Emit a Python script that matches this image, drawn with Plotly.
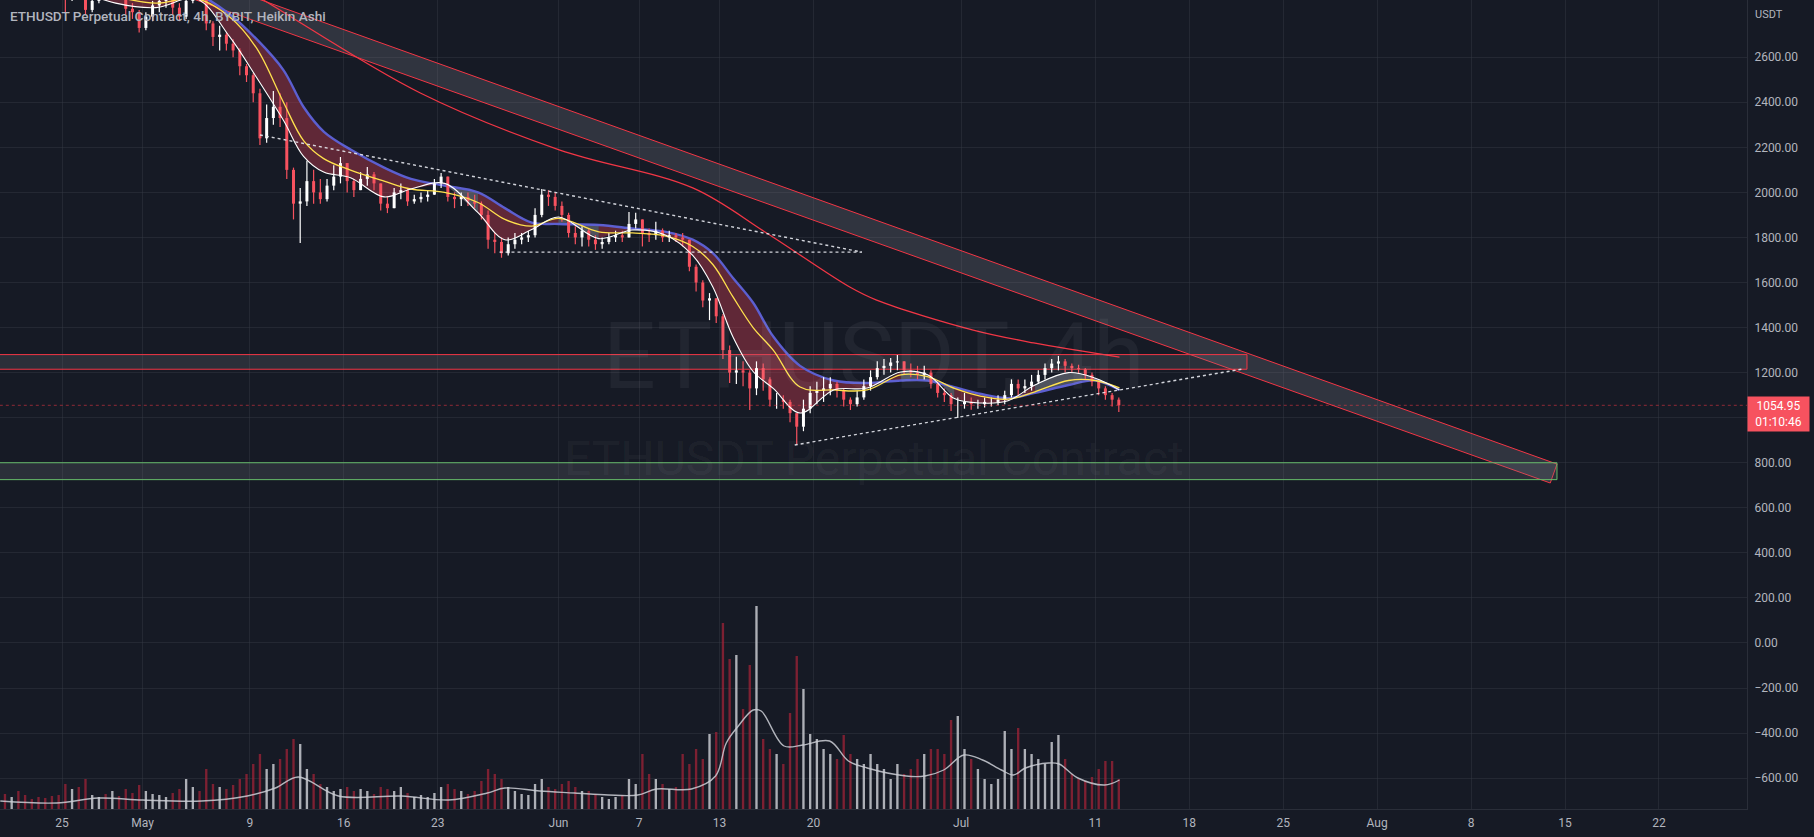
import numpy as np
import pandas as pd
import plotly.graph_objects as go

# ---------------- DATA ----------------
# 12h Heikin-Ashi-like candles, first candle opens 2022-04-20 12:00
candle_start = "2022-04-20 12:00"
first_open = 3040
close = [3020,
         3090, 2990, 2985, 2960, 2950, 2935, 2930, 2920, 2860, 3000,          # Apr21-25
         2960, 2810, 2850, 2890, 2880, 2935, 2900, 2815, 2800, 2730,          # Apr26-30
         2780, 2830, 2850, 2860, 2820, 2780, 2850, 2940, 2920, 2750,          # May1-5
         2690, 2700, 2660, 2630, 2560, 2520, 2440, 2240, 2330, 2380,          # May6-10
         2330, 2100, 1950, 1960, 2050, 2000, 1970, 2030, 2070, 2130,          # May11-15
         2050, 2010, 2060, 2080, 2040, 1950, 1930, 2000, 2010, 1960,          # May16-20
         1970, 1980, 1990, 2040, 2070, 1980, 1970, 1980, 1960, 1950,          # May21-25
         1900, 1790, 1780, 1730, 1770, 1790, 1800, 1810, 1900, 1990,          # May26-30
         1980, 1940,                                                          # May31
         1900, 1820, 1800, 1830, 1790, 1770, 1780, 1800, 1810, 1800,          # Jun1-5
         1860, 1880, 1820, 1810, 1830, 1800, 1810, 1800, 1790, 1670,          # Jun6-10
         1600, 1520, 1530, 1450, 1300, 1200, 1210, 1200, 1130, 1220,          # Jun11-15
         1170, 1080, 1080, 1070, 1020, 960, 1040, 1110, 1120, 1130,           # Jun16-20
         1150, 1120, 1080, 1060, 1090, 1140, 1180, 1220, 1230, 1245,          # Jun21-25
         1250, 1210, 1200, 1190, 1200, 1150, 1110, 1100, 1060, 1060,          # Jun26-30
         1070, 1060, 1060, 1070, 1070, 1080, 1100, 1150, 1130, 1140,          # Jul1-5
         1160, 1190, 1220, 1240, 1250, 1230, 1220, 1215, 1190, 1160,          # Jul6-10
         1130, 1100, 1080, 1054.95]                                           # Jul11-12
high = [3080,
        3170, 3100, 3020, 3000, 2980, 2960, 2950, 2950, 2930, 3030,
        3030, 2970, 2880, 2920, 2950, 2980, 2950, 2900, 2840, 2810,
        2800, 2850, 2880, 2880, 2870, 2840, 2880, 2960, 2960, 2930,
        2760, 2740, 2710, 2680, 2640, 2570, 2530, 2460, 2390, 2450,
        2440, 2400, 2110, 2020, 2140, 2100, 2060, 2060, 2120, 2157,
        2100, 2060, 2090, 2113, 2090, 2040, 1980, 2020, 2040, 2020,
        1990, 2000, 2010, 2060, 2086, 2060, 2000, 2000, 2000, 1990,
        1960, 1920, 1820, 1800, 1800, 1820, 1820, 1830, 1930, 2015,
        2010, 2000,
        1960, 1910, 1850, 1850, 1840, 1810, 1800, 1820, 1830, 1830,
        1913, 1910, 1880, 1840, 1870, 1840, 1830, 1820, 1820, 1790,
        1680, 1610, 1553, 1520, 1460, 1320, 1270, 1250, 1210, 1250,
        1240, 1180, 1110, 1100, 1080, 1020, 1080, 1140, 1160, 1180,
        1180, 1160, 1130, 1090, 1120, 1170, 1210, 1250, 1260, 1265,
        1278, 1250, 1240, 1230, 1230, 1210, 1160, 1130, 1110, 1090,
        1110, 1090, 1080, 1090, 1090, 1100, 1120, 1170, 1170, 1170,
        1190, 1210, 1240, 1260, 1274, 1260, 1240, 1235, 1220, 1200,
        1170, 1140, 1110, 1090]
low = [3000,
       3010, 2960, 2940, 2930, 2925, 2910, 2900, 2890, 2800, 2850,
       2930, 2790, 2800, 2840, 2860, 2880, 2860, 2790, 2770, 2710,
       2720, 2760, 2800, 2820, 2790, 2760, 2770, 2840, 2880, 2720,
       2650, 2630, 2630, 2600, 2520, 2490, 2400, 2210, 2220, 2300,
       2290, 2060, 1880, 1775, 1940, 1950, 1950, 1960, 2010, 2040,
       2000, 1980, 2010, 2030, 2010, 1920, 1908, 1930, 1970, 1940,
       1950, 1955, 1960, 1990, 2020, 1960, 1930, 1940, 1940, 1930,
       1880, 1750, 1730, 1710, 1720, 1750, 1770, 1780, 1800, 1890,
       1940, 1920,
       1870, 1800, 1770, 1760, 1760, 1745, 1750, 1770, 1780, 1780,
       1800, 1840, 1760, 1780, 1790, 1780, 1780, 1780, 1760, 1650,
       1560, 1490, 1433, 1420, 1260, 1154, 1150, 1140, 1034, 1100,
       1120, 1050, 1040, 1040, 980, 879, 940, 1020, 1060, 1070,
       1100, 1090, 1050, 1034, 1050, 1080, 1120, 1170, 1190, 1200,
       1210, 1190, 1180, 1170, 1170, 1130, 1090, 1070, 1030, 999,
       1040, 1035, 1040, 1045, 1050, 1055, 1060, 1090, 1100, 1110,
       1120, 1150, 1170, 1200, 1210, 1200, 1200, 1195, 1170, 1140,
       1100, 1080, 1050, 1025]
# volume per 12h candle (arbitrary units)
volume = [15,
          12, 18, 14, 10, 12, 11, 13, 14, 25, 20,
          22, 30, 14, 12, 15, 18, 13, 20, 16, 24,
          18, 15, 14, 12, 16, 20, 30, 22, 18, 40,
          25, 22, 20, 24, 30, 35, 45, 55, 40, 45,
          50, 60, 70, 65, 40, 35, 25, 22, 18, 20,
          22, 18, 20, 18, 15, 22, 20, 18, 22, 16,
          12, 14, 12, 16, 22, 25, 20, 18, 15, 18,
          28, 40, 35, 30, 22, 18, 15, 14, 25, 30,
          22, 20,
          25, 28, 22, 18, 18, 15, 12, 10, 12, 14,
          30, 25, 55, 35, 30, 25, 20, 22, 55, 45,
          60, 50, 75, 77, 186, 150, 154, 100, 144, 203,
          70, 60, 55, 45, 96, 153, 120, 75, 70, 60,
          55, 50, 74, 55, 50, 45, 55, 45, 40, 30,
          45, 35, 40, 50, 55, 60, 60, 55, 89, 93,
          60, 50, 40, 30, 25, 30, 78, 60, 81, 60,
          55, 50, 45, 67, 74, 50, 35, 30, 28, 32,
          40, 48, 48, 30]
# volume moving average (knots, days after 2022-04-25)
vol_ma_day = [-4.6, -0.4, 2.7, 6, 10.4, 13.8, 15.9, 17.6, 20.6, 25.3, 28.8, 31.7, 33, 35.6,
              38.2, 40.7, 42.9, 44.3, 46.9, 48.7, 49.5, 50.4, 51.5, 52.1, 53.8, 55.2, 57.2,
              58.6, 60, 62.9, 64.3, 65.7, 67.2, 68.6, 70, 70.9, 71.8, 73.5, 74.3, 75.7, 77.7, 78.8]
vol_ma = [8, 6, 11, 9, 8, 13, 21, 32, 13, 13, 9, 16, 21, 18,
          16, 14, 14, 20, 20, 33, 66, 83, 99, 98, 63, 64, 68,
          48, 41, 33, 33, 39, 54, 49, 39, 34, 41, 46, 45, 31, 24, 29]

# moving-average ribbon (knots, days after 2022-04-25)
ema_day = [-4.5, -2, 1, 4, 7, 10, 12.5, 14.5, 16.5, 18, 19.5, 21.5, 24, 26, 28.5, 31, 33, 35,
           37, 40, 42.5, 45, 47, 48.5, 50, 51.5, 53, 55, 57.5, 60, 62.5, 64.5, 66.5, 68.5,
           70.5, 72.5, 75, 77, 78.8]
ema_fast = [3040, 2960, 2900, 2840, 2820, 2860, 2690, 2510, 2320, 2160, 2090, 2065, 1980,
            2015, 2040, 1910, 1790, 1835, 1891, 1795, 1833, 1810, 1720, 1580, 1358, 1205,
            1130, 1021, 1123, 1132, 1203, 1190, 1085, 1065, 1075, 1145, 1200, 1175, 1123]
ema_mid = [3040, 2990, 2930, 2870, 2840, 2860, 2779, 2640, 2400, 2230, 2150, 2099, 2050,
           2015, 2000, 1955, 1880, 1850, 1885, 1825, 1820, 1806, 1760, 1680, 1536, 1400,
           1300, 1136, 1123, 1123, 1190, 1182, 1130, 1095, 1082, 1115, 1165, 1165, 1132]
ema_slow = [3050, 3010, 2960, 2910, 2880, 2880, 2790, 2680, 2543, 2379, 2270, 2190, 2110,
            2060, 2030, 2000, 1930, 1866, 1860, 1855, 1840, 1825, 1790, 1730, 1620, 1510,
            1360, 1230, 1165, 1154, 1165, 1165, 1135, 1105, 1087, 1110, 1145, 1165, 1123]
ema200_day = [10, 15, 26.7, 37.1, 47, 52.5, 58.7, 60.7, 67.9, 72.4, 78.8]
ema200 = [3030, 2854, 2441, 2188, 2020, 1820, 1580, 1522, 1389, 1332, 1269]

# drawings (days after 2022-04-25, price)
channel_day = [-10, 111.4, 110.9, -10]
channel_price = [3384, 794, 710, 3279]
resist_box_day = [-10, 88.3]
resist_box_price = [1215, 1280]
support_box_day = [-10, 111.4]
support_box_price = [725, 800]
tri_upper_day = [14.75, 59.6]
tri_upper_price = [2255, 1735]
tri_flat_day = [32.6, 59.6]
tri_flat_price = [1735, 1735]
rise_line_day = [54.6, 88.0]
rise_line_price = [879, 1216]
last_price = 1054.95
countdown = "01:10:46"

price_ticks = list(range(2600, -601, -200))
hidden_ticks = [1000]          # covered by the last-price label in the reference
date_tick_days = ["2022-04-25", "2022-05-01", "2022-05-09", "2022-05-16", "2022-05-23",
                  "2022-06-01", "2022-06-07", "2022-06-13", "2022-06-20", "2022-07-01",
                  "2022-07-11", "2022-07-18", "2022-07-25", "2022-08-01", "2022-08-08",
                  "2022-08-15", "2022-08-22"]
date_tick_text = ["25", "May", "9", "16", "23", "Jun", "7", "13", "20", "Jul", "11", "18",
                  "25", "Aug", "8", "15", "22"]

# ---------------- STYLE ----------------
BG = "#161a25"
GRID = "rgba(54,58,69,0.45)"
TXT = "#b2b5be"
RED = "#f23645"
CANDLE_RED = "#f7525f"
FONT = "Roboto"

day0 = pd.Timestamp("2022-04-25")
def D(days):
    return [day0 + pd.Timedelta(days=float(d)) for d in days]

n = len(close)
t = pd.Timestamp(candle_start) + pd.to_timedelta(np.arange(n) * 12, unit="h")
xc = list(t + pd.Timedelta(hours=6))
opens = [first_open] + close[:-1]
up = [c >= o for c, o in zip(close, opens)]

fig = go.Figure()

# channel / boxes (filled)
fig.add_trace(go.Scatter(x=D(channel_day + channel_day[:1]), y=channel_price + channel_price[:1],
                         mode="lines", fill="toself", fillcolor="rgba(120,123,134,0.28)",
                         line=dict(color=RED, width=1), hoverinfo="skip"))
for bd, bp, col in [(resist_box_day, resist_box_price, RED),
                    (support_box_day, support_box_price, "#66bb6a")]:
    xs = D([bd[0], bd[1], bd[1], bd[0], bd[0]])
    ys = [bp[0], bp[0], bp[1], bp[1], bp[0]]
    fig.add_trace(go.Scatter(x=xs, y=ys, mode="lines", fill="toself",
                             fillcolor="rgba(120,123,134,0.22)",
                             line=dict(color=col, width=1), hoverinfo="skip"))

# volume
vol_colors = ["rgba(200,202,208,0.85)" if u else "rgba(160,35,55,0.75)" for u in up]
fig.add_trace(go.Bar(x=xc, y=volume, yaxis="y2", width=4.2 * 3600 * 1000,
                     marker=dict(color=vol_colors, line=dict(width=0)), hoverinfo="skip"))
fig.add_trace(go.Scatter(x=D(vol_ma_day), y=vol_ma, yaxis="y2", mode="lines",
                         line=dict(color="rgba(205,207,214,0.85)", width=1.4, shape="spline"),
                         hoverinfo="skip"))

# ribbon fill: maroon where the fast average is below the slow one, grey otherwise
runs = []
cur = [0]
for i in range(1, len(ema_day)):
    bear_prev = ema_fast[i - 1] <= ema_slow[i - 1]
    bear_now = ema_fast[i] <= ema_slow[i]
    cur.append(i)
    if bear_now != bear_prev:
        runs.append((cur, bear_prev))
        cur = [i]
runs.append((cur, ema_fast[cur[-1]] <= ema_slow[cur[-1]] if len(cur) == 1 else
             ema_fast[cur[1]] <= ema_slow[cur[1]]))
for idx, bear in runs:
    dd = [ema_day[i] for i in idx]
    fig.add_trace(go.Scatter(x=D(dd), y=[ema_slow[i] for i in idx], mode="lines",
                             line=dict(width=0, shape="spline"), hoverinfo="skip"))
    fig.add_trace(go.Scatter(x=D(dd), y=[ema_fast[i] for i in idx], mode="lines",
                             fill="tonexty",
                             fillcolor="rgba(200,60,80,0.42)" if bear else "rgba(170,174,186,0.38)",
                             line=dict(width=0, shape="spline"), hoverinfo="skip"))
fig.add_trace(go.Scatter(x=D(ema_day), y=ema_slow, mode="lines",
                         line=dict(color="#5c5fd0", width=2.4, shape="spline"), hoverinfo="skip"))

# candles as line segments
def seg(xs, a, b):
    X, Y = [], []
    for x, y0, y1 in zip(xs, a, b):
        X += [x, x, None]
        Y += [y0, y1, None]
    return X, Y

for flag, col in [(False, CANDLE_RED), (True, "#ffffff")]:
    idx = [i for i in range(n) if up[i] == flag]
    xs = [xc[i] for i in idx]
    lo = [min(low[i], opens[i], close[i]) for i in idx]
    hi = [max(high[i], opens[i], close[i]) for i in idx]
    X, Y = seg(xs, lo, hi)
    fig.add_trace(go.Scatter(x=X, y=Y, mode="lines", line=dict(color=col, width=1.2),
                             hoverinfo="skip", connectgaps=False))
    bo = [opens[i] for i in idx]
    bc = [close[i] for i in idx]
    X, Y = seg(xs, bo, bc)
    fig.add_trace(go.Scatter(x=X, y=Y, mode="lines", line=dict(color=col, width=3),
                             hoverinfo="skip", connectgaps=False))

# ribbon lines on top
fig.add_trace(go.Scatter(x=D(ema_day), y=ema_mid, mode="lines",
                         line=dict(color="#ffe14d", width=1.3, shape="spline"), hoverinfo="skip"))
fig.add_trace(go.Scatter(x=D(ema_day), y=ema_fast, mode="lines",
                         line=dict(color="#ffffff", width=1.1, shape="spline"), hoverinfo="skip"))
fig.add_trace(go.Scatter(x=D(ema200_day), y=ema200, mode="lines",
                         line=dict(color=RED, width=1.3, shape="spline"), hoverinfo="skip"))

# dotted trend lines
for dd, pp in [(tri_upper_day, tri_upper_price), (tri_flat_day, tri_flat_price),
               (rise_line_day, rise_line_price)]:
    fig.add_trace(go.Scatter(x=D(dd), y=pp, mode="lines",
                             line=dict(color="rgba(230,232,238,0.9)", width=1.4, dash="dot"),
                             hoverinfo="skip"))

# last price line
fig.add_trace(go.Scatter(x=D([-10, 140]), y=[last_price, last_price], mode="lines",
                         line=dict(color="rgba(242,54,69,0.55)", width=1, dash="dot"),
                         hoverinfo="skip"))

x_range = [day0 + pd.Timedelta(days=-4.62), day0 + pd.Timedelta(days=125.56)]

fig.update_layout(
    width=1814, height=837, autosize=False,
    margin=dict(l=0, r=67, t=0, b=28),
    paper_bgcolor=BG, plot_bgcolor=BG,
    showlegend=False, barmode="overlay", hovermode=False,
    font=dict(family=FONT, color=TXT, size=12),
    xaxis=dict(type="date", range=x_range, tickvals=date_tick_days, ticktext=date_tick_text,
               showgrid=True, gridcolor=GRID, gridwidth=1, zeroline=False,
               showline=True, linecolor="#2a2e39", linewidth=1, ticks="",
               ticklabelstandoff=3,
               tickfont=dict(family=FONT, size=12, color=TXT)),
    yaxis=dict(range=[-737, 2854], side="right", tickvals=price_ticks,
               ticktext=["" if v in hidden_ticks else f"{v:.2f}".replace("-", "\u2212")
                         for v in price_ticks],
               showgrid=True, gridcolor=GRID, gridwidth=1, zeroline=False,
               showline=True, linecolor="#2a2e39", linewidth=1, ticks="",
               ticklabelstandoff=4,
               tickfont=dict(family=FONT, size=12, color=TXT)),
    yaxis2=dict(range=[0, 809], overlaying="y", visible=False, fixedrange=True),
)

plot_w = 1814 - 67
annotations = [
    dict(text="ETHUSDT Perpetual Contract, 4h, BYBIT, Heikin Ashi", xref="paper", yref="paper",
         x=8 / plot_w, y=1 - 16 / 809, xanchor="left", yanchor="middle", showarrow=False,
         font=dict(family=FONT, size=13.6, color="#b2b5be", weight=500)),
    dict(text="USDT", xref="paper", yref="paper", x=1 + 6 / plot_w, y=1 - 14 / 809,
         xanchor="left", yanchor="middle", showarrow=False,
         font=dict(family=FONT, size=11, color=TXT)),
    dict(text="ETHUSDT, 4h", xref="paper", yref="paper", x=0.5, y=1 - 356 / 809,
         xanchor="center", yanchor="middle", showarrow=False,
         font=dict(family=FONT, size=93, color="rgba(255,255,255,0.05)")),
    dict(text="ETHUSDT Perpetual Contract", xref="paper", yref="paper", x=0.5, y=1 - 459 / 809,
         xanchor="center", yanchor="middle", showarrow=False,
         font=dict(family=FONT, size=48, color="rgba(255,255,255,0.05)")),
    dict(text=f"{last_price:.2f}<br>{countdown}", xref="paper", yref="y", x=1.0, y=last_price,
         xanchor="left", yanchor="middle", yshift=-9, showarrow=False, align="center",
         bgcolor=CANDLE_RED, borderpad=2, width=57,
         font=dict(family=FONT, size=12, color="#ffffff")),
]
fig.update_layout(annotations=annotations)

fig.write_html("out.html", config={"displayModeBar": False},
               post_script="document.body.style.margin='0';document.body.style.background='#161a25';")
